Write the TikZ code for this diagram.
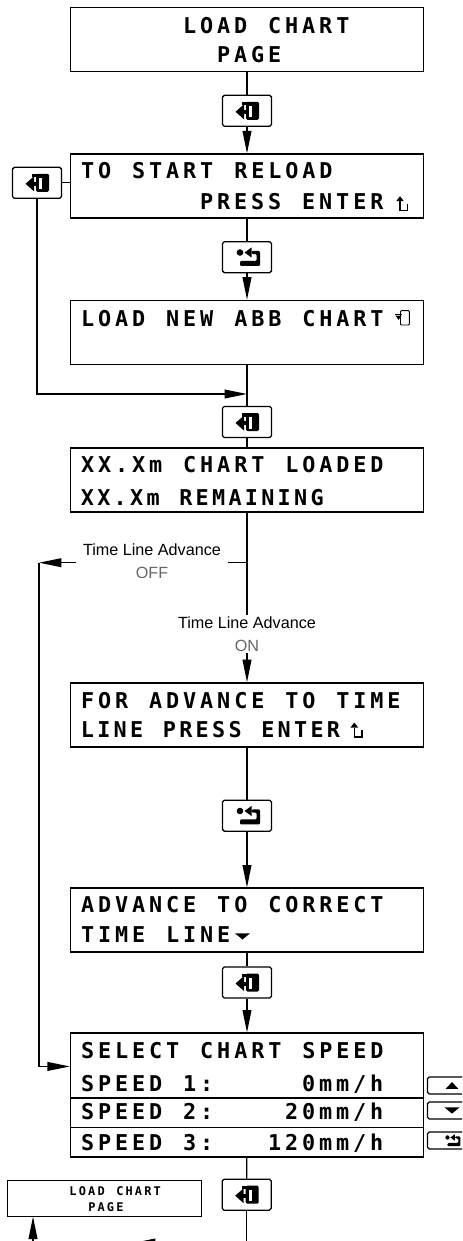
\documentclass[tikz,border=0pt]{standalone}
\usepackage{fontspec}
\newfontfamily\lcdfont{DejaVu Sans Mono}
\newfontfamily\advfont{Liberation Sans}
\usetikzlibrary{arrows.meta,positioning,calc}
\ExplSyntaxOn
\NewDocumentCommand\lcd{O{0.425cm}m}{\str_map_inline:nn{#2}{\makebox[#1][c]{##1}}}
\ExplSyntaxOff
\tikzset{
	screen/.style={draw, line width=1.2pt, minimum width=8.815cm, minimum height=1.6cm, inner sep=0},
	keybox/.style={draw, line width=0.9pt, rounded corners=1.3pt, minimum width=1.225cm, minimum height=0.775cm, inner sep=0},
	sidekey/.style={keybox, minimum height=0.43cm},
	lcdline/.style={anchor=base west, inner sep=0, font=\lcdfont\bfseries\fontsize{15.5}{18}\selectfont},
	lcdmini/.style={anchor=base west, inner sep=0, font=\lcdfont\bfseries\fontsize{8.5}{10}\selectfont},
	choice/.style={font=\advfont\fontsize{11.5}{16.5}\selectfont, align=center, inner xsep=0.165cm, inner ysep=1pt},
	link/.style={color=black, line width=0.9pt},
	dirlink/.style={->,>={Triangle[length=5.6mm,width=2.2mm]},color=black, line width=0.9pt},
	keydoor/.pic={
		\fill[rounded corners=1pt] (-1,-9) rectangle (12,9);
		\fill[white] (2,-5) rectangle (5,6.5);
		\fill (-5,-9) rectangle (2,-5.5);
		\fill (-11.5,1) -- (-3,-6.5) -- (-3,8.5) -- cycle;
		\fill (-4,-1) rectangle (2,3);
	},
	keyreturn/.pic={
		\fill (-7,-4.7) circle (3.3);
		\fill (-2.5,-4.7) -- (4.5,-9.7) -- (4.5,0.3) -- cycle;
		\fill[rounded corners=0.8pt] (4.5,-6.3) -- (13,-6.3) -- (13,8.7) -- (-7,8.7) -- (-7,3.7) -- (9.7,3.7) -- (9.7,-3.1) -- (4.5,-3.1) -- cycle;
	},
	entermark/.pic={
		\fill (-0.5,-9.5) -- (3.3,-14.5) -- (7.1,-9.5) -- cycle;
		\draw[line width=0.75pt] (3.3,-9.5) -- (3.3,0) -- (11,0) -- (11,-7);
	},
	doormark/.pic={
		\draw[line width=0.7pt, rounded corners=0.6pt] (5.5,-14.3) rectangle (14.3,0);
		\draw[line width=0.7pt] (0,-10.5) -- (7,-10.5);
		\fill (0.5,-9.5) -- (6.5,-9.5) -- (3.5,-5) -- cycle;
	},
	upmark/.pic={\fill (-6.5,3.3) -- (0,-3.3) -- (6.5,3.3) -- cycle;},
	downmark/.pic={\fill (-7.5,-3.1) -- (7.5,-3.1) -- (0,3.1) -- cycle;}
}
\begin{document}
\begin{tikzpicture}[x=0.025cm, y=-0.025cm]
	\useasboundingbox (0,0) rectangle (462,1241);
	\clip (0,0) rectangle (462,1241);
	
	% screens
	\node[screen] (loadpage) at (247,39.5) {};
	\node[screen] (reload) at (247,186.2) {};
	\node[screen] (newchart) at (247,332.5) {};
	\node[screen] (loaded) at (247,480.3) {};
	\node[screen] (advask) at (247,715) {};
	\node[screen] (advance) at (247,920.3) {};
	\node[screen, minimum height=3.085cm] (speed) at (247,1095) {};
	\node[screen, minimum width=4.86cm, minimum height=0.883cm, line width=0.8pt] (pagemini) at (104.5,1198.4) {};
	\draw[line width=1.2pt] (speed.west |- 0,1098) -- (speed.east |- 0,1098)
		(speed.west |- 0,1127.5) -- (speed.east |- 0,1127.5);
	
	% screen texts
	\node[lcdline] (t1a) at (181,33.3) {\lcd{LOAD CHART}};
	\node[lcdline] (t1b) at (215,62.7) {\lcd{PAGE}};
	\node[lcdline] (t2a) at (79,178.3) {\lcd{TO START RELOAD}};
	\node[lcdline] (t2b) at (198,210) {\lcd{PRESS ENTER}};
	\pic at (396.7,210.7) {entermark};
	\node[lcdline] (t3a) at (79,326.7) {\lcd{LOAD NEW ABB CHART}};
	\pic at (395,325) {doormark};
	\node[lcdline] (t4a) at (79,472.7) {\lcd{XX.Xm CHART LOADED}};
	\node[lcdline] (t4b) at (79,505.3) {\lcd[0.41cm]{XX.Xm REMAINING}};
	\node[lcdline] (t6a) at (79,708.3) {\lcd{FOR ADVANCE TO TIME}};
	\node[lcdline] (t6b) at (79,737) {\lcd[0.41cm]{LINE PRESS ENTER}};
	\pic at (351,737) {entermark};
	\node[lcdline] (t7a) at (79,912) {\lcd{ADVANCE TO CORRECT}};
	\node[lcdline] (t7b) at (79,942) {\lcd{TIME LINE}};
	\pic at (242.5,936.4) {downmark};
	\node[lcdline] (t8a) at (79,1058.5) {\lcd{SELECT CHART SPEED}};
	\node[lcdline] (t8b) at (79,1091.7) {\lcd{SPEED 1:}};
	\node[lcdline] (v8b) at (300,1091.7) {\lcd{0mm/h}};
	\node[lcdline] (t8c) at (79,1119) {\lcd{SPEED 2:}};
	\node[lcdline] (v8c) at (283,1119) {\lcd{20mm/h}};
	\node[lcdline] (t8d) at (79,1150) {\lcd{SPEED 3:}};
	\node[lcdline] (v8d) at (266,1150) {\lcd{120mm/h}};
	\node[lcdmini] (tma) at (68.1,1195) {\lcd[0.234cm]{LOAD CHART}};
	\node[lcdmini] (tmb) at (86.9,1211.5) {\lcd[0.234cm]{PAGE}};
	
	% keys
	\node[keybox] (k1) at (247,110.8) {};
	\pic at (k1) {keydoor};
	\node[keybox] (kleft) at (37,182.8) {};
	\pic at (kleft) {keydoor};
	\node[keybox] (k2) at (247,257.2) {};
	\pic at (k2) {keyreturn};
	\node[keybox] (k3) at (247,422) {};
	\pic at (k3) {keydoor};
	\node[keybox] (k4) at (247,815.7) {};
	\pic at (k4) {keyreturn};
	\node[keybox] (k5) at (247,982.5) {};
	\pic at (k5) {keydoor};
	\node[keybox] (k6) at (246.7,1194.7) {};
	\pic at (k6) {keydoor};
	\node[sidekey] (kup) at (452,1085.5) {};
	\pic at (kup) {upmark};
	\node[sidekey] (kdown) at (452,1110.5) {};
	\pic at (kdown) {downmark};
	\node[sidekey] (kret) at (452,1140.5) {};
	\pic[scale=0.65] at (kret) {keyreturn};
	
	% choices
	\node[choice] (offsel) at (152,561.5) {Time Line Advance\\\textcolor{black!60}{OFF}};
	\node[choice] (onsel) at (247,634) {Time Line Advance\\\textcolor{black!60}{ON}};
	
	\coordinate (j1) at (247,394);
	\coordinate (j2) at (247,562.7);
	\coordinate (offturn) at (39,562.7);
	\coordinate (speedin) at ($(speed.north west)+(0,34)$);
	\coordinate (turn) at (246.7,1243);
	\coordinate (tipback) at (133,1243);
	\coordinate (corner) at (33,1243);
	
	\draw[link] (loadpage) -- (k1);
	\draw[dirlink] (k1) -- (reload);
	\draw[link] (reload) -- (k2);
	\draw[dirlink] (k2) -- (newchart);
	\draw[link] (kleft.east) -- (kleft.east -| reload.west);
	\draw[dirlink] (kleft.south) |- (j1);
	\draw[link] (newchart) -- (k3);
	\draw[link] (k3) -- (loaded);
	\draw[link] (loaded) -- (onsel);
	\draw[link] (j2) -- (offsel.east |- j2);
	\draw[dirlink] (offsel.west |- j2) -- (offturn);
	\draw[dirlink] (offturn) |- (speedin);
	\draw[dirlink] (onsel) -- (advask);
	\draw[link] (advask) -- (k4);
	\draw[dirlink] (k4) -- (advance);
	\draw[link] (advance) -- (k5);
	\draw[dirlink] (k5) -- (speed);
	\draw[link] (speed) -- (k6);
	\draw[link] (k6) -- (turn);
	\draw[dirlink] (turn) -- (tipback);
	\draw[link] (tipback) -- (corner);
	\draw[dirlink] (corner) -- (pagemini.south -| corner);
\end{tikzpicture}
\end{document}
